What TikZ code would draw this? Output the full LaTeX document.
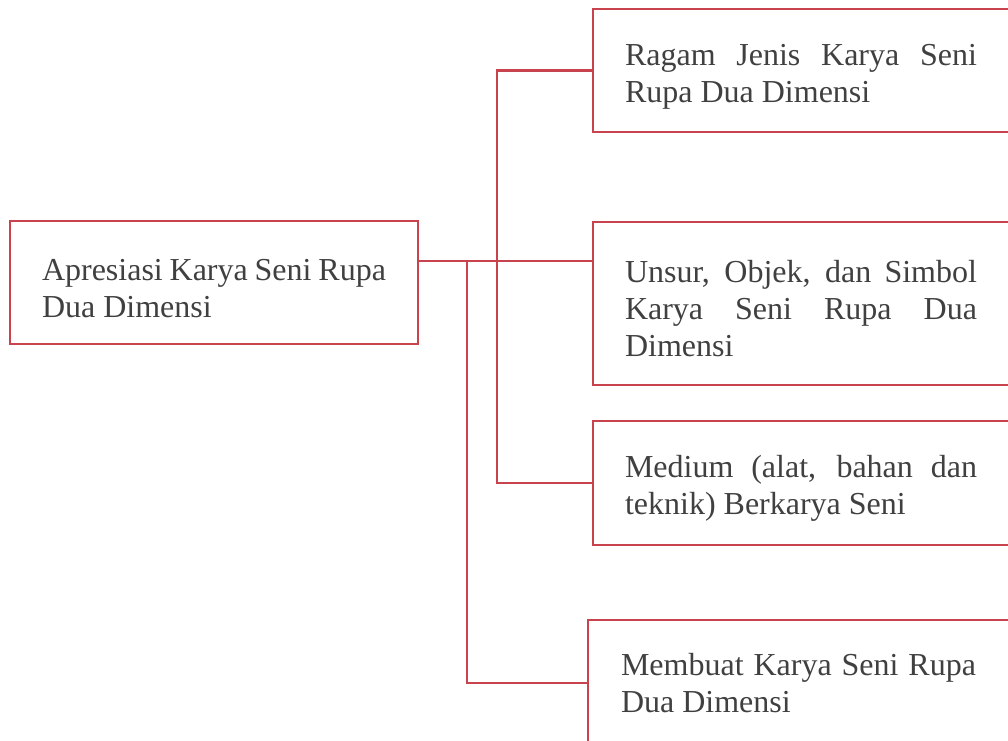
\documentclass[tikz,border=0pt]{standalone}
\usepackage{fontspec}
\setmainfont{Liberation Serif}
\definecolor{boxred}{HTML}{C9434E}
\definecolor{txt}{HTML}{404040}
\newcommand{\lowstrut}{\rule{0pt}{33pt}}
\begin{document}
\begin{tikzpicture}[x=1pt,y=-1pt,
  box/.style={draw=boxred,line width=2.6pt,rectangle,anchor=north west,
    inner xsep=32pt,inner ysep=0pt,outer sep=0pt,text=txt,align=justify,
    font=\fontsize{32}{37}\selectfont,
    execute at begin node={\hyphenpenalty=10000\relax\tolerance=10000\relax}},
  conn/.style={draw=boxred,line width=2.6pt}]
\useasboundingbox (0,0) rectangle (1008,740);
\node[box,text width=344pt,inner xsep=32pt,minimum height=123pt] (main) at (10,221)
  {\lowstrut Apresiasi Karya Seni Rupa\\Dua Dimensi};
\node[box,text width=352pt,minimum height=123pt] (b1) at (593,9)
  {\lowstrut Ragam Jenis Karya Seni\linebreak Rupa Dua Dimensi};
\node[box,text width=352pt,minimum height=163pt] (b2) at (593,222)
  {\lowstrut Unsur, Objek, dan Simbol\linebreak Karya Seni Rupa Dua\linebreak Dimensi};
\node[box,text width=352pt,minimum height=124pt] (b3) at (593,421)
  {\lowstrut Medium (alat, bahan dan\linebreak teknik) Berkarya Seni};
\node[box,text width=355pt,inner xsep=33pt,minimum height=126pt] (b4) at (588,620)
  {Membuat Karya Seni Rupa\linebreak Dua Dimensi};
\coordinate (j1) at (497,261);
\coordinate (j2) at (467,261);
\draw[conn] (main.east |- j1) -- (b2.west |- j1);
\draw[conn] (b1.west) -- (b1.west -| j1) -- (b3.west -| j1) -- (b3.west);
\draw[conn] (j2) -- (j2 |- b4.west) -- (b4.west);
\end{tikzpicture}
\end{document}
